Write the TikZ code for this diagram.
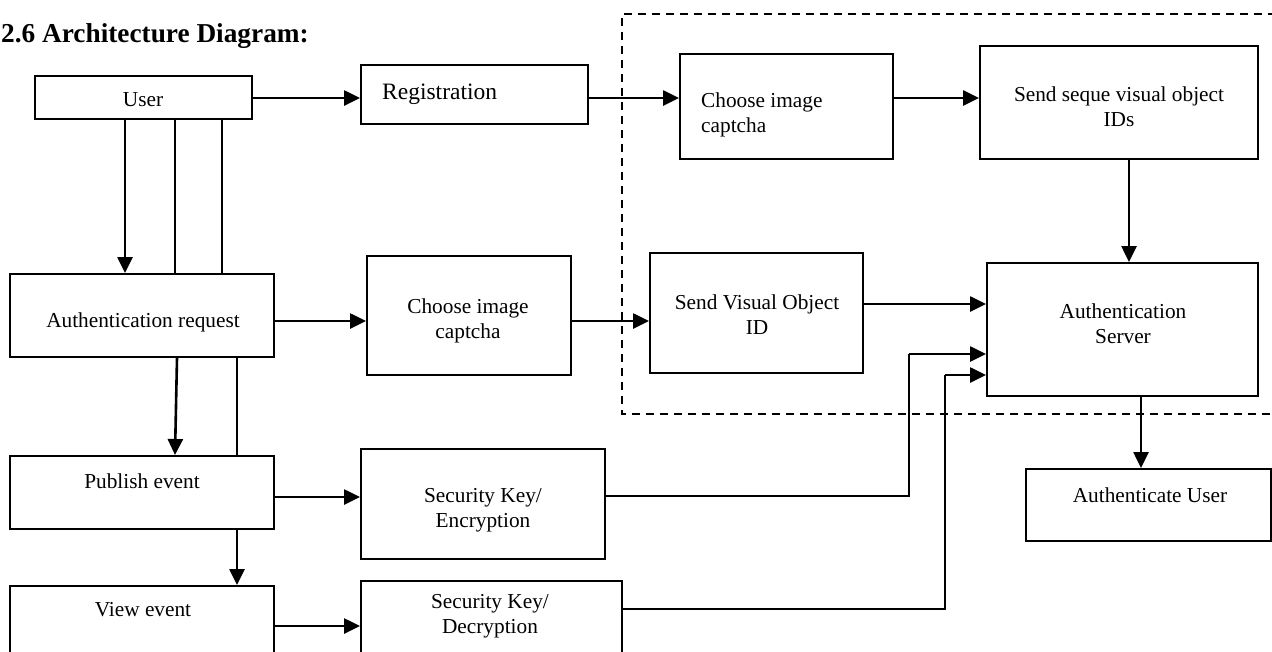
\documentclass[tikz,border=0pt]{standalone}
\usepackage{fontspec}
\setmainfont{Liberation Serif}
\usetikzlibrary{arrows.meta,fit}
\newcommand{\bodyfont}{\fontsize{21.3}{25}\selectfont}
\newcommand{\regfont}{\fontsize{23.5}{27}\selectfont}
\newcommand{\titlefont}{\bfseries\fontsize{27.3}{32}\selectfont}
\begin{document}
\begin{tikzpicture}[x=1pt,y=-1pt,
  box/.style={draw, line width=2pt, inner sep=0pt},
  txt/.style={font=\bodyfont, align=center, inner sep=0pt},
  arr/.style={line width=2.6pt, -{Triangle[length=16pt,width=15pt]}},
  ln/.style={line width=2pt},
  dashbox/.style={line width=1.7pt, dash pattern=on 8pt off 6pt}]
\useasboundingbox (0,0) rectangle (1272,651);
\clip (0,0) rectangle (1272,651);

% title
\node[anchor=base west, inner sep=0pt, font=\titlefont] (title) at (1,42) {2.6 Architecture Diagram:};

% dashed region
\draw[dashbox] (1290,14) -- (622,14) -- (622,414) -- (1290,414);

% boxes
\node[box, fit={(35,76) (252,119)}] (user) {};
\node[box, fit={(361,65) (588,124)}] (reg) {};
\node[box, fit={(680,54) (893,159)}] (ch1) {};
\node[box, fit={(980,46) (1258,159)}] (seq) {};
\node[box, fit={(10,274) (274,357)}] (areq) {};
\node[box, fit={(367,256) (571,375)}] (ch2) {};
\node[box, fit={(650,253) (863,373)}] (svis) {};
\node[box, fit={(987,263) (1258,396)}] (srv) {};
\node[box, fit={(10,456) (274,529)}] (pub) {};
\node[box, fit={(361,449) (605,559)}] (enc) {};
\node[box, fit={(10,586) (274,700)}] (view) {};
\node[box, fit={(361,581) (622,700)}] (dec) {};
\node[box, fit={(1026,469) (1271,541)}] (auser) {};

% texts
\node[txt] (userT) at (143,100) {User};
\node[txt, anchor=west, font=\regfont] (regT) at (382,94) {Registration};
\node[txt, anchor=west, align=left] (ch1T) at (701,115) {Choose image\\captcha};
\node[txt] (seqT) at (1119,107) {Send seque visual object\\IDs};
\node[txt] (areqT) at (143,322) {Authentication request};
\node[txt] (ch2T) at (468,321) {Choose image\\captcha};
\node[txt] (svisT) at (757,315) {Send Visual Object\\ID};
\node[txt] (srvT) at (1123,324) {Authentication\\Server};
\node[txt] (pubT) at (142,481) {Publish event};
\node[txt] (encT) at (483,510) {Security Key/\\Encryption};
\node[txt] (viewT) at (143,610) {View event};
\node[txt] (decT) at (490,616) {Security Key/\\Decryption};
\node[txt] (auserT) at (1150,495) {Authenticate User};

% helper coordinates
\coordinate (h98) at (0,98);
\coordinate (h321) at (0,321);
\coordinate (h304) at (0,304);
\coordinate (h497) at (0,497);
\coordinate (h626) at (0,626);
\coordinate (v125) at (125,0);
\coordinate (v175) at (175,0);
\coordinate (v177) at (177,0);
\coordinate (v222) at (222,0);
\coordinate (v237) at (237,0);
\coordinate (v1129) at (1129,0);
\coordinate (v1141) at (1141,0);
\coordinate (e1) at (909,496);
\coordinate (e2) at (909,354);
\coordinate (d1) at (945,609);
\coordinate (d2) at (945,375);

% connectors
\draw[arr] (user.east |- h98) -- (reg.west |- h98);
\draw[arr] (reg.east |- h98) -- (ch1.west |- h98);
\draw[arr] (ch1.east |- h98) -- (seq.west |- h98);
\draw[arr] (seq.south -| v1129) -- (srv.north -| v1129);

\draw[arr] (user.south -| v125) -- (areq.north -| v125);
\draw[ln] (user.south -| v175) -- (areq.north -| v175);
\draw[ln] (user.south -| v222) -- (areq.north -| v222);

\draw[arr] (areq.east |- h321) -- (ch2.west |- h321);
\draw[arr] (ch2.east |- h321) -- (svis.west |- h321);
\draw[arr] (svis.east |- h304) -- (srv.west |- h304);

\draw[arr] (areq.south -| v177) -- (pub.north -| v175);
\draw[ln] (areq.south -| v237) -- (pub.north -| v237);
\draw[arr] (pub.east |- h497) -- (enc.west |- h497);
\draw[arr] (pub.south -| v237) -- (view.north -| v237);
\draw[arr] (view.east |- h626) -- (dec.west |- h626);

\draw[ln] (enc.east |- e1) -- (e1) -- (e2);
\draw[arr] (e2) -- (srv.west |- e2);
\draw[ln] (dec.east |- d1) -- (d1) -- (d2);
\draw[arr] (d2) -- (srv.west |- d2);

\draw[arr] (srv.south -| v1141) -- (auser.north -| v1141);
\end{tikzpicture}
\end{document}
